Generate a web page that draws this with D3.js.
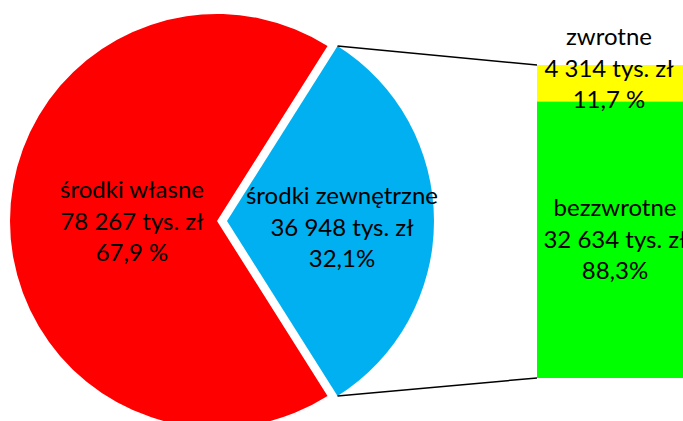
<!DOCTYPE html>
<html>
<head>
<meta charset="utf-8">
<script src="https://cdn.jsdelivr.net/npm/d3@7"></script>
<style>
  html, body { margin: 0; padding: 0; background: #fff; overflow: hidden; }
  svg { display: block; }
  text { font-family: Lato, "Open Sans", sans-serif; fill: #000; }
</style>
</head>
<body>
<svg id="chart" width="683" height="421"></svg>
<script>
// Źródła finansowania (tys. zł)
const pieNames = ["środki zewnętrzne", "środki własne"];
const pieValues = [36948, 78267];
const piePercents = ["32,1%", "67,9 %"];
const pieColors = ["#00B0F0", "#FF0000"];

// Rozbicie środków zewnętrznych
const barNames = ["zwrotne", "bezzwrotne"];
const barValues = [4314, 32634];
const barPercents = ["11,7 %", "88,3%"];
const barColors = ["#FFFF00", "#00FF00"];

const fmt = v => d3.format(",")(v).replace(/,/g, " ") + " tys. zł";

const svg = d3.select("#chart");

const cx = 217, cy = 221, R = 207, explode = 10;
const total = d3.sum(pieValues);
const blueSpan = 2 * Math.PI * pieValues[0] / total;
const start = Math.PI / 2 - blueSpan / 2;

const pie = d3.pie().sort(null).value(d => d)
  .startAngle(start).endAngle(start + 2 * Math.PI);
const arcs = pie(pieValues);
const arc = d3.arc().innerRadius(0).outerRadius(R);

const g = svg.append("g").attr("transform", `translate(${cx},${cy})`);
// wysunięty wycinek środków zewnętrznych
const ex = explode;
g.selectAll("path").data(arcs).join("path")
  .attr("d", arc)
  .attr("fill", (d, i) => pieColors[i])
  .attr("transform", (d, i) => i === 0 ? `translate(${ex},0)` : null);

// słupek rozbicia
const barX0 = 537, barX1 = 686, barTop = 65, barBottom = 378;
const y = d3.scaleLinear().domain([0, d3.sum(barValues)]).range([barTop, barBottom]);
const stacked = [];
let acc = 0;
barValues.forEach((v, i) => { stacked.push({ y0: acc, y1: acc + v, i }); acc += v; });
svg.selectAll("rect.bar").data(stacked).join("rect")
  .attr("class", "bar")
  .attr("x", barX0).attr("width", barX1 - barX0)
  .attr("y", d => y(d.y0)).attr("height", d => y(d.y1) - y(d.y0))
  .attr("fill", d => barColors[d.i]);

// linie łączące wycinek ze słupkiem
const a0 = arcs[0].startAngle, a1 = arcs[0].endAngle;
const pt = a => [cx + ex + R * Math.sin(a), cy - R * Math.cos(a)];
const p0 = pt(a0), p1 = pt(a1);
svg.append("line").attr("x1", p0[0]).attr("y1", p0[1]).attr("x2", barX0).attr("y2", y(0))
  .attr("stroke", "#000").attr("stroke-width", 1.5);
svg.append("line").attr("x1", p1[0]).attr("y1", p1[1]).attr("x2", barX0).attr("y2", y(d3.sum(barValues)))
  .attr("stroke", "#000").attr("stroke-width", 1.5);

// etykiety
const fs = 24, lh = 31.5;
function label(x, yBase, lines) {
  const t = svg.append("text").attr("text-anchor", "middle").attr("font-size", fs);
  lines.forEach((s, k) => t.append("tspan").attr("x", x).attr("y", yBase + k * lh).text(s));
}
label(132, 198, [pieNames[1], fmt(pieValues[1]), piePercents[1]]);
label(342, 204, [pieNames[0], fmt(pieValues[0]), piePercents[0]]);
label(609, 45, [barNames[0], fmt(barValues[0]), barPercents[0]]);
label(615, 216, [barNames[1], fmt(barValues[1]), barPercents[1]]);
</script>
</body>
</html>
